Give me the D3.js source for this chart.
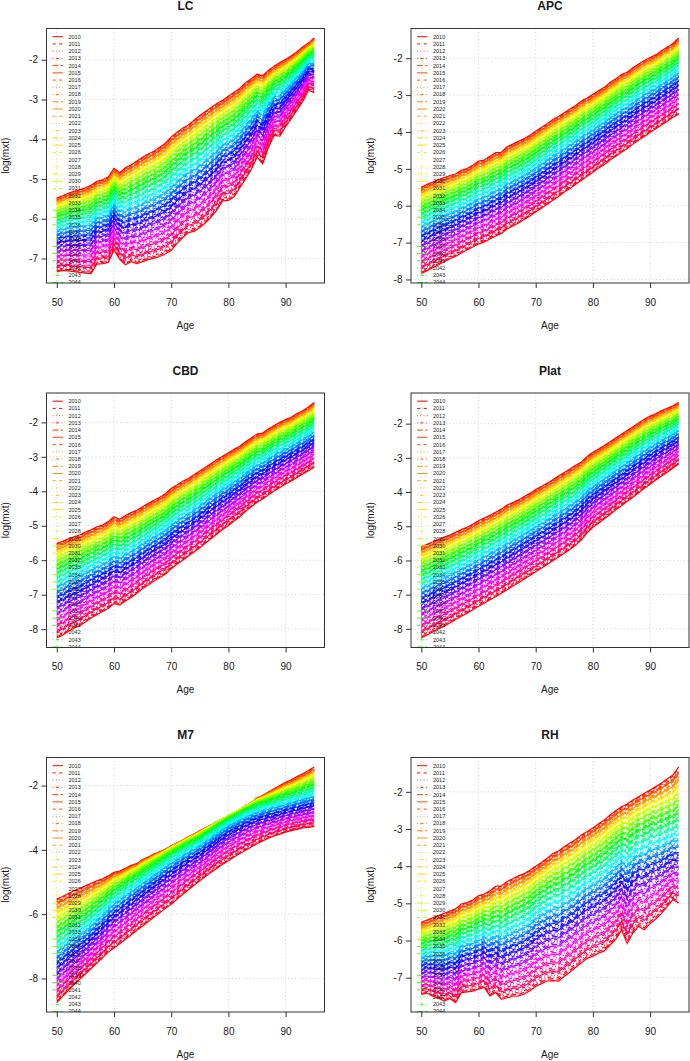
<!DOCTYPE html>
<html>
<head>
<meta charset="utf-8">
<script src="https://cdn.jsdelivr.net/npm/d3@7"></script>
<style>
  body { margin: 0; background: #fff; }
  text { font-family: "Liberation Sans", Arial, sans-serif; fill: #1a1a1a; }
</style>
</head>
<body>
<div class="chart"></div>
<script>
var svgWidth = 690;
var svgHeight = 1061;

// ages on the x axis and forecast years (one line per year)
var ages = d3.range(50, 96);
var years = d3.range(2010, 2111);
var xTicks = [50, 60, 70, 80, 90];

// log(mxt): first year (2010), middle year (2060), last year (2110)
var lc2010 = [-5.48,-5.42,-5.36,-5.31,-5.27,-5.22,-5.16,-5.06,-5.02,-4.95,-4.73,-4.84,-4.72,-4.64,-4.55,-4.45,-4.37,-4.30,-4.20,-4.10,-3.94,-3.83,-3.72,-3.64,-3.52,-3.40,-3.30,-3.20,-3.10,-3.02,-2.92,-2.82,-2.72,-2.58,-2.48,-2.36,-2.40,-2.27,-2.16,-2.07,-1.99,-1.90,-1.80,-1.68,-1.58,-1.45];
var lc2060 = [-6.22,-6.17,-6.14,-6.12,-6.10,-6.08,-6.05,-5.89,-5.86,-5.81,-5.55,-5.71,-5.70,-5.62,-5.58,-5.50,-5.43,-5.38,-5.30,-5.21,-5.08,-4.95,-4.82,-4.72,-4.64,-4.53,-4.42,-4.30,-4.17,-4.03,-3.97,-3.87,-3.72,-3.55,-3.39,-3.20,-3.29,-3.04,-2.86,-2.81,-2.67,-2.53,-2.38,-2.23,-2.05,-2.00];
var lc2110 = [-7.34,-7.30,-7.31,-7.33,-7.35,-7.37,-7.38,-7.14,-7.13,-7.10,-6.79,-7.02,-7.16,-7.08,-7.13,-7.08,-7.03,-6.99,-6.95,-6.88,-6.80,-6.62,-6.48,-6.35,-6.32,-6.22,-6.10,-5.95,-5.78,-5.55,-5.54,-5.45,-5.22,-5.00,-4.76,-4.45,-4.62,-4.20,-3.90,-3.92,-3.68,-3.48,-3.26,-3.05,-2.76,-2.83];

var apc2010 = [-5.50,-5.42,-5.36,-5.29,-5.24,-5.18,-5.14,-5.04,-4.99,-4.90,-4.79,-4.76,-4.66,-4.56,-4.55,-4.40,-4.33,-4.25,-4.18,-4.09,-3.98,-3.88,-3.78,-3.66,-3.58,-3.48,-3.38,-3.28,-3.16,-3.08,-2.98,-2.88,-2.79,-2.66,-2.56,-2.44,-2.38,-2.26,-2.16,-2.06,-1.98,-1.91,-1.80,-1.70,-1.60,-1.45];
var apc2060 = [-6.46,-6.38,-6.31,-6.24,-6.17,-6.11,-6.05,-5.96,-5.90,-5.81,-5.71,-5.67,-5.58,-5.49,-5.45,-5.31,-5.24,-5.16,-5.08,-4.99,-4.88,-4.78,-4.67,-4.56,-4.47,-4.36,-4.26,-4.16,-4.04,-3.95,-3.85,-3.74,-3.65,-3.52,-3.42,-3.31,-3.23,-3.11,-3.00,-2.90,-2.81,-2.73,-2.62,-2.52,-2.42,-2.30];
var apc2110 = [-7.84,-7.76,-7.68,-7.60,-7.52,-7.44,-7.37,-7.28,-7.20,-7.12,-7.04,-6.98,-6.90,-6.82,-6.75,-6.63,-6.55,-6.47,-6.37,-6.28,-6.17,-6.07,-5.96,-5.85,-5.75,-5.63,-5.53,-5.42,-5.31,-5.20,-5.09,-4.98,-4.88,-4.76,-4.66,-4.55,-4.45,-4.33,-4.22,-4.12,-4.01,-3.91,-3.81,-3.71,-3.60,-3.52];

var cbd2010 = [-5.51,-5.45,-5.38,-5.32,-5.27,-5.18,-5.12,-5.03,-4.98,-4.88,-4.74,-4.81,-4.70,-4.62,-4.55,-4.45,-4.35,-4.26,-4.17,-4.07,-3.92,-3.82,-3.71,-3.63,-3.52,-3.41,-3.30,-3.19,-3.08,-2.98,-2.88,-2.78,-2.69,-2.56,-2.45,-2.34,-2.31,-2.19,-2.09,-2.00,-1.92,-1.85,-1.74,-1.66,-1.55,-1.42];
var cbd2060 = [-6.64,-6.57,-6.48,-6.41,-6.35,-6.25,-6.17,-6.08,-6.01,-5.91,-5.77,-5.83,-5.72,-5.63,-5.54,-5.42,-5.32,-5.22,-5.13,-5.03,-4.88,-4.76,-4.65,-4.55,-4.44,-4.32,-4.20,-4.08,-3.97,-3.85,-3.75,-3.63,-3.53,-3.39,-3.27,-3.15,-3.09,-2.97,-2.87,-2.77,-2.69,-2.61,-2.50,-2.41,-2.31,-2.19];
var cbd2110 = [-8.26,-8.18,-8.07,-7.97,-7.90,-7.79,-7.68,-7.58,-7.49,-7.40,-7.26,-7.30,-7.18,-7.08,-6.96,-6.82,-6.72,-6.60,-6.50,-6.40,-6.25,-6.12,-6.00,-5.88,-5.76,-5.64,-5.50,-5.37,-5.24,-5.11,-4.99,-4.86,-4.74,-4.58,-4.45,-4.32,-4.22,-4.10,-3.99,-3.89,-3.79,-3.70,-3.60,-3.50,-3.40,-3.30];

var plat2010 = [-5.60,-5.53,-5.46,-5.39,-5.32,-5.26,-5.18,-5.10,-5.03,-4.94,-4.84,-4.76,-4.68,-4.59,-4.50,-4.38,-4.31,-4.23,-4.13,-4.04,-3.93,-3.84,-3.74,-3.64,-3.53,-3.43,-3.33,-3.22,-3.12,-2.96,-2.84,-2.74,-2.64,-2.53,-2.42,-2.31,-2.20,-2.09,-1.98,-1.87,-1.78,-1.71,-1.62,-1.55,-1.48,-1.38];
var plat2060 = [-6.69,-6.62,-6.54,-6.46,-6.39,-6.31,-6.23,-6.14,-6.06,-5.97,-5.87,-5.78,-5.69,-5.60,-5.51,-5.40,-5.31,-5.22,-5.12,-5.02,-4.91,-4.82,-4.72,-4.61,-4.50,-4.40,-4.29,-4.18,-4.05,-3.87,-3.74,-3.63,-3.52,-3.40,-3.28,-3.17,-3.05,-2.93,-2.82,-2.70,-2.60,-2.51,-2.40,-2.32,-2.23,-2.12];
var plat2110 = [-8.27,-8.18,-8.09,-8.00,-7.92,-7.83,-7.73,-7.63,-7.54,-7.44,-7.34,-7.25,-7.15,-7.06,-6.96,-6.86,-6.75,-6.65,-6.54,-6.44,-6.33,-6.23,-6.12,-6.01,-5.90,-5.79,-5.68,-5.55,-5.40,-5.19,-5.03,-4.91,-4.78,-4.66,-4.52,-4.40,-4.27,-4.15,-4.02,-3.89,-3.77,-3.65,-3.53,-3.42,-3.30,-3.18];

var m72010 = [-5.53,-5.45,-5.36,-5.27,-5.20,-5.12,-5.04,-4.96,-4.90,-4.81,-4.70,-4.66,-4.57,-4.48,-4.43,-4.30,-4.22,-4.13,-4.06,-3.98,-3.88,-3.79,-3.70,-3.60,-3.51,-3.41,-3.32,-3.23,-3.13,-3.05,-2.96,-2.86,-2.76,-2.63,-2.54,-2.39,-2.31,-2.20,-2.10,-2.00,-1.90,-1.82,-1.72,-1.63,-1.53,-1.42];
var m72060 = [-7.03,-6.90,-6.77,-6.64,-6.52,-6.41,-6.25,-6.08,-5.93,-5.75,-5.58,-5.47,-5.33,-5.20,-5.08,-4.95,-4.83,-4.70,-4.58,-4.45,-4.33,-4.22,-4.11,-4.00,-3.91,-3.81,-3.68,-3.56,-3.42,-3.31,-3.19,-3.10,-3.01,-2.92,-2.84,-2.77,-2.72,-2.67,-2.62,-2.57,-2.51,-2.46,-2.41,-2.35,-2.30,-2.25];
var m72110 = [-8.75,-8.56,-8.38,-8.20,-8.03,-7.86,-7.69,-7.52,-7.36,-7.18,-7.05,-6.92,-6.78,-6.65,-6.50,-6.37,-6.23,-6.09,-5.96,-5.82,-5.69,-5.54,-5.39,-5.24,-5.10,-4.96,-4.83,-4.70,-4.57,-4.45,-4.34,-4.22,-4.11,-4.01,-3.91,-3.81,-3.72,-3.64,-3.57,-3.51,-3.45,-3.40,-3.36,-3.32,-3.30,-3.27];

var rh2010 = [-5.51,-5.45,-5.39,-5.33,-5.27,-5.21,-5.15,-5.02,-4.98,-4.91,-4.80,-4.75,-4.66,-4.54,-4.53,-4.41,-4.34,-4.26,-4.20,-4.11,-4.00,-3.90,-3.79,-3.66,-3.59,-3.48,-3.38,-3.28,-3.16,-3.07,-2.97,-2.86,-2.76,-2.62,-2.51,-2.40,-2.33,-2.22,-2.13,-2.04,-1.95,-1.86,-1.76,-1.65,-1.55,-1.33];
var rh2060 = [-6.38,-6.32,-6.32,-6.31,-6.31,-6.22,-6.23,-6.04,-6.01,-5.96,-5.88,-5.80,-5.85,-5.74,-5.81,-5.72,-5.64,-5.58,-5.50,-5.41,-5.26,-5.17,-5.08,-4.99,-4.96,-4.84,-4.77,-4.66,-4.54,-4.43,-4.35,-4.25,-4.17,-4.02,-3.89,-3.73,-3.83,-3.65,-3.53,-3.51,-3.39,-3.36,-3.30,-3.23,-3.16,-3.12];
var rh2110 = [-7.45,-7.42,-7.50,-7.55,-7.63,-7.56,-7.67,-7.40,-7.38,-7.36,-7.31,-7.26,-7.49,-7.40,-7.58,-7.54,-7.50,-7.49,-7.44,-7.35,-7.24,-7.16,-7.09,-7.08,-7.09,-6.96,-6.85,-6.72,-6.60,-6.48,-6.42,-6.34,-6.28,-6.12,-5.97,-5.72,-6.08,-5.80,-5.62,-5.71,-5.54,-5.42,-5.27,-5.08,-4.90,-4.99];

// y tick labels per panel
var yTicksLC = [-7, -6, -5, -4, -3, -2];
var yTicksAPC = [-8, -7, -6, -5, -4, -3, -2];
var yTicksCBD = [-8, -7, -6, -5, -4, -3, -2];
var yTicksPlat = [-8, -7, -6, -5, -4, -3, -2];
var yTicksM7 = [-8, -6, -4, -2];
var yTicksRH = [-7, -6, -5, -4, -3, -2];

var panels = [
  { title: "LC", first: lc2010, mid: lc2060, last: lc2110, yTicks: yTicksLC },
  { title: "APC", first: apc2010, mid: apc2060, last: apc2110, yTicks: yTicksAPC },
  { title: "CBD", first: cbd2010, mid: cbd2060, last: cbd2110, yTicks: yTicksCBD },
  { title: "Plat", first: plat2010, mid: plat2060, last: plat2110, yTicks: yTicksPlat },
  { title: "M7", first: m72010, mid: m72060, last: m72110, yTicks: yTicksM7 },
  { title: "RH", first: rh2010, mid: rh2060, last: rh2110, yTicks: yTicksRH }
];

// layout of the 3 x 2 grid of plot boxes
var colLeft = [46.5, 411];
var rowTop = [28.5, 393, 757.5];
var boxW = 278;
var boxH = 254.5;
var legendTop = 8.2;
var legendStep = 7.23;

// R matplot lty 1:5 (solid, dashed, dotted, dotdash, longdash)
var dashes = ["none", "3.3,3.3", "0.8,2.5", "0.8,2.5,3.3,2.5", "5.8,2.5"];
// rainbow(n) colours
function yearColor(i) {
  return d3.hsl(360 * i / years.length, 1, 0.5).toString();
}

var svg = d3.select(".chart")
  .append("svg")
  .attr("width", svgWidth)
  .attr("height", svgHeight);

panels.forEach(function(p, k) {
  var left = colLeft[k % 2];
  var top = rowTop[Math.floor(k / 2)];

  // each year's curve sits between the 2010, 2060 and 2110 curves
  var n = years.length - 1;
  var series = years.map(function(yr, i) {
    var t = i / n;
    var w0 = 2 * (t - 0.5) * (t - 1);
    var wm = -4 * t * (t - 1);
    var w1 = 2 * t * (t - 0.5);
    return ages.map(function(a, j) {
      return { age: a, v: w0 * p.first[j] + wm * p.mid[j] + w1 * p.last[j] };
    });
  });

  var yMin = d3.min(series, s => d3.min(s, d => d.v));
  var yMax = d3.max(series, s => d3.max(s, d => d.v));
  var yPad = (yMax - yMin) * 0.04;
  var xPad = (d3.max(ages) - d3.min(ages)) * 0.04;

  var x = d3.scaleLinear()
    .domain([d3.min(ages) - xPad, d3.max(ages) + xPad])
    .range([0, boxW]);
  var y = d3.scaleLinear()
    .domain([yMin - yPad, yMax + yPad])
    .range([boxH, 0]);

  var g = svg.append("g")
    .attr("transform", `translate(${left}, ${top})`);

  g.append("clipPath")
    .attr("id", "clip" + k)
    .append("rect")
    .attr("width", boxW)
    .attr("height", boxH);

  // grid
  g.selectAll(".vgrid")
    .data(xTicks)
    .enter()
    .append("line")
    .attr("x1", d => x(d)).attr("x2", d => x(d))
    .attr("y1", 0).attr("y2", boxH)
    .attr("stroke", "#c8c8c8")
    .attr("stroke-width", 0.8)
    .attr("stroke-dasharray", "1,2.5");
  g.selectAll(".hgrid")
    .data(p.yTicks)
    .enter()
    .append("line")
    .attr("x1", 0).attr("x2", boxW)
    .attr("y1", d => y(d)).attr("y2", d => y(d))
    .attr("stroke", "#c8c8c8")
    .attr("stroke-width", 0.8)
    .attr("stroke-dasharray", "1,2.5");

  // forecast lines
  var line = d3.line()
    .x(d => x(d.age))
    .y(d => y(d.v));

  g.append("g")
    .attr("clip-path", `url(#clip${k})`)
    .selectAll("path")
    .data(series)
    .enter()
    .append("path")
    .attr("d", line)
    .attr("fill", "none")
    .attr("stroke", (d, i) => yearColor(i))
    .attr("stroke-width", 1.2)
    .attr("stroke-dasharray", (d, i) => dashes[i % 5]);

  // legend: only the entries that reach into the plot region are seen (R clips it)
  var shown = years.filter((d, i) => legendTop + i * legendStep - 3 < boxH);
  var legend = g.append("g")
    .attr("clip-path", `url(#clip${k})`);
  var items = legend.selectAll("g")
    .data(shown)
    .enter()
    .append("g")
    .attr("transform", (d, i) => `translate(0, ${legendTop + i * legendStep})`);
  items.append("line")
    .attr("x1", 6).attr("x2", 16.5)
    .attr("stroke", (d, i) => yearColor(i))
    .attr("stroke-width", 1)
    .attr("stroke-dasharray", (d, i) => dashes[i % 5]);
  items.append("text")
    .attr("x", 22)
    .attr("dy", "0.35em")
    .style("font-size", "5.5px")
    .text(d => d);

  // box
  g.append("rect")
    .attr("width", boxW)
    .attr("height", boxH)
    .attr("fill", "none")
    .attr("stroke", "#333")
    .attr("stroke-width", 1);

  // axes
  var bottomAxis = d3.axisBottom(x).tickValues(xTicks).tickSize(5).tickPadding(10.5).tickSizeOuter(0);
  var leftAxis = d3.axisLeft(y).tickValues(p.yTicks).tickSize(5).tickPadding(3.5).tickSizeOuter(0)
    .tickFormat(d3.format("d"));

  var xg = g.append("g")
    .attr("transform", `translate(0, ${boxH})`)
    .call(bottomAxis);
  var yg = g.append("g").call(leftAxis);
  [xg, yg].forEach(function(a) {
    a.select(".domain").remove();
    a.selectAll("line").attr("stroke", "#333");
    a.selectAll("text")
      .attr("fill", "#1a1a1a")
      .style("font-size", "10px")
      .style("font-family", "Liberation Sans, Arial, sans-serif");
  });
  yg.selectAll("text").text(d => String(d));

  // titles
  g.append("text")
    .attr("x", boxW / 2)
    .attr("y", -22.5)
    .attr("dy", "0.35em")
    .attr("text-anchor", "middle")
    .style("font-size", "12px")
    .style("font-weight", "bold")
    .text(p.title);
  g.append("text")
    .attr("x", boxW / 2)
    .attr("y", boxH + 42)
    .attr("dy", "0.35em")
    .attr("text-anchor", "middle")
    .style("font-size", "10px")
    .text("Age");
  g.append("text")
    .attr("transform", `translate(-41, ${boxH / 2}) rotate(-90)`)
    .attr("dy", "0.35em")
    .attr("text-anchor", "middle")
    .style("font-size", "10px")
    .text("log(mxt)");
});
</script>
</body>
</html>
